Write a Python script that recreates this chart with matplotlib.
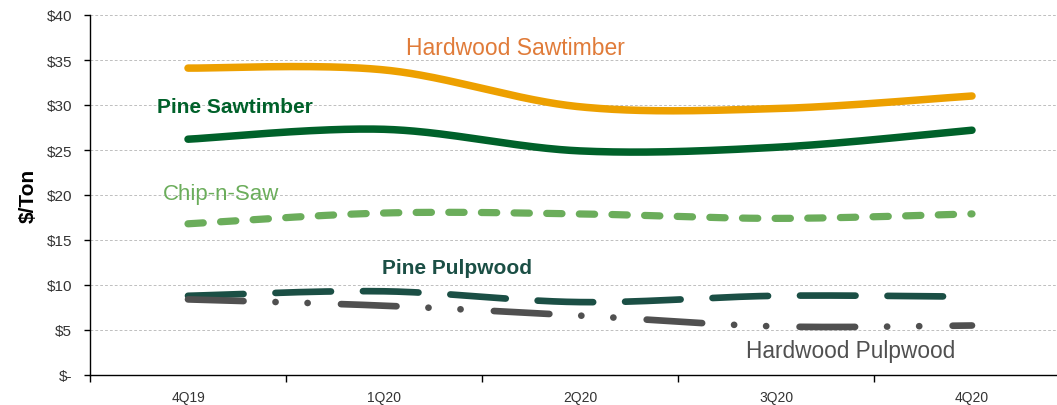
import numpy as np
import matplotlib
matplotlib.use("Agg")
import matplotlib.pyplot as plt
from matplotlib.ticker import FuncFormatter, MultipleLocator, FixedLocator

plt.rcParams["font.family"] = ["Liberation Sans", "DejaVu Sans"]
plt.rcParams["lines.scale_dashes"] = False

quarters = ["4Q19", "1Q20", "2Q20", "3Q20", "4Q20"]
hardwood_sawtimber = [34.1, 33.9, 29.8, 29.6, 31.0]
pine_sawtimber = [26.2, 27.3, 24.9, 25.3, 27.2]
chip_n_saw = [16.8, 18.0, 17.9, 17.4, 17.9]
pine_pulpwood = [8.8, 9.3, 8.1, 8.8, 8.7]
hardwood_pulpwood = [8.4, 7.7, 6.6, 5.4, 5.5]


def smooth(xs, ys, n=60, tension=0.5):
    """Cardinal-spline smoothing through the given points."""
    xs = np.asarray(xs, float)
    ys = np.asarray(ys, float)
    px = np.concatenate([[xs[0]], xs, [xs[-1]]])
    py = np.concatenate([[ys[0]], ys, [ys[-1]]])
    ox, oy = [], []
    for i in range(1, len(px) - 2):
        p0 = np.array([px[i - 1], py[i - 1]])
        p1 = np.array([px[i], py[i]])
        p2 = np.array([px[i + 1], py[i + 1]])
        p3 = np.array([px[i + 2], py[i + 2]])
        c1 = p1 + (p2 - p0) * tension / 3
        c2 = p2 - (p3 - p1) * tension / 3
        t = np.linspace(0, 1, n)[:, None]
        pts = ((1 - t) ** 3) * p1 + 3 * ((1 - t) ** 2) * t * c1 + 3 * (1 - t) * t ** 2 * c2 + t ** 3 * p2
        ox.extend(pts[:, 0])
        oy.extend(pts[:, 1])
    return np.array(ox), np.array(oy)


fig = plt.figure(figsize=(10.57, 4.06), dpi=100)
ax = fig.add_axes([90 / 1057, 30 / 406, 980 / 1057, 360 / 406])

x = np.arange(len(quarters))

series = [
    (hardwood_sawtimber, "#EDA000", 5.4, None),
    (pine_sawtimber, "#00612A", 5.4, None),
    (chip_n_saw, "#6BAD5B", 5.2, (11, 12.5)),
    (pine_pulpwood, "#1B4F45", 4.8, (40, 23)),
    (hardwood_pulpwood, "#505050", 4.8, (40, 23, 0.1, 23, 0.1, 24)),
]
for vals, color, lw, dashes in series:
    sx, sy = smooth(x, vals)
    line, = ax.plot(sx, sy, color=color, lw=lw, solid_capstyle="round",
                    dash_capstyle="round", solid_joinstyle="round")
    if dashes is not None:
        line.set_dashes(dashes)

labels = [
    ("Hardwood Sawtimber", 1.67, 36.4, "#E07B39", "normal", 16.5),
    ("Pine Sawtimber", 0.24, 29.8, "#00612A", "bold", 15),
    ("Chip-n-Saw", 0.17, 20.2, "#6BAD5B", "normal", 16),
    ("Pine Pulpwood", 1.37, 12.0, "#1B4F45", "bold", 15),
    ("Hardwood Pulpwood", 3.38, 2.7, "#505050", "normal", 16.3),
]
for text, lx, ly, color, weight, size in labels:
    ax.text(lx, ly, text, color=color, fontsize=size, fontweight=weight,
            ha="center", va="center")

ax.set_xlim(-0.5, 4.5)
ax.set_ylim(0, 40)
ax.yaxis.set_major_locator(MultipleLocator(5))
ax.yaxis.set_major_formatter(FuncFormatter(lambda v, p: "$-" if v == 0 else f"${v:.0f}"))
ax.set_xticks(x)
ax.set_xticklabels(quarters)
ax.xaxis.set_minor_locator(FixedLocator(np.arange(-0.5, 5.0, 1.0)))
ax.tick_params(axis="x", which="major", length=0, pad=11, labelsize=10, labelcolor="#333333")
ax.tick_params(axis="x", which="minor", length=5, width=1, direction="out", color="#000000")
ax.tick_params(axis="y", length=4, width=1, labelsize=11, labelcolor="#333333", pad=9)

ax.grid(axis="y", color="#BFBFBF", linestyle=(0, (2, 1.5)), linewidth=0.7)
ax.set_axisbelow(True)
for side in ["top", "right"]:
    ax.spines[side].set_visible(False)
for side in ["left", "bottom"]:
    ax.spines[side].set_color("#000000")
    ax.spines[side].set_linewidth(1)

ax.set_ylabel("$/Ton", fontsize=15, fontweight="bold", labelpad=6)

fig.savefig("out.png", dpi=100)
